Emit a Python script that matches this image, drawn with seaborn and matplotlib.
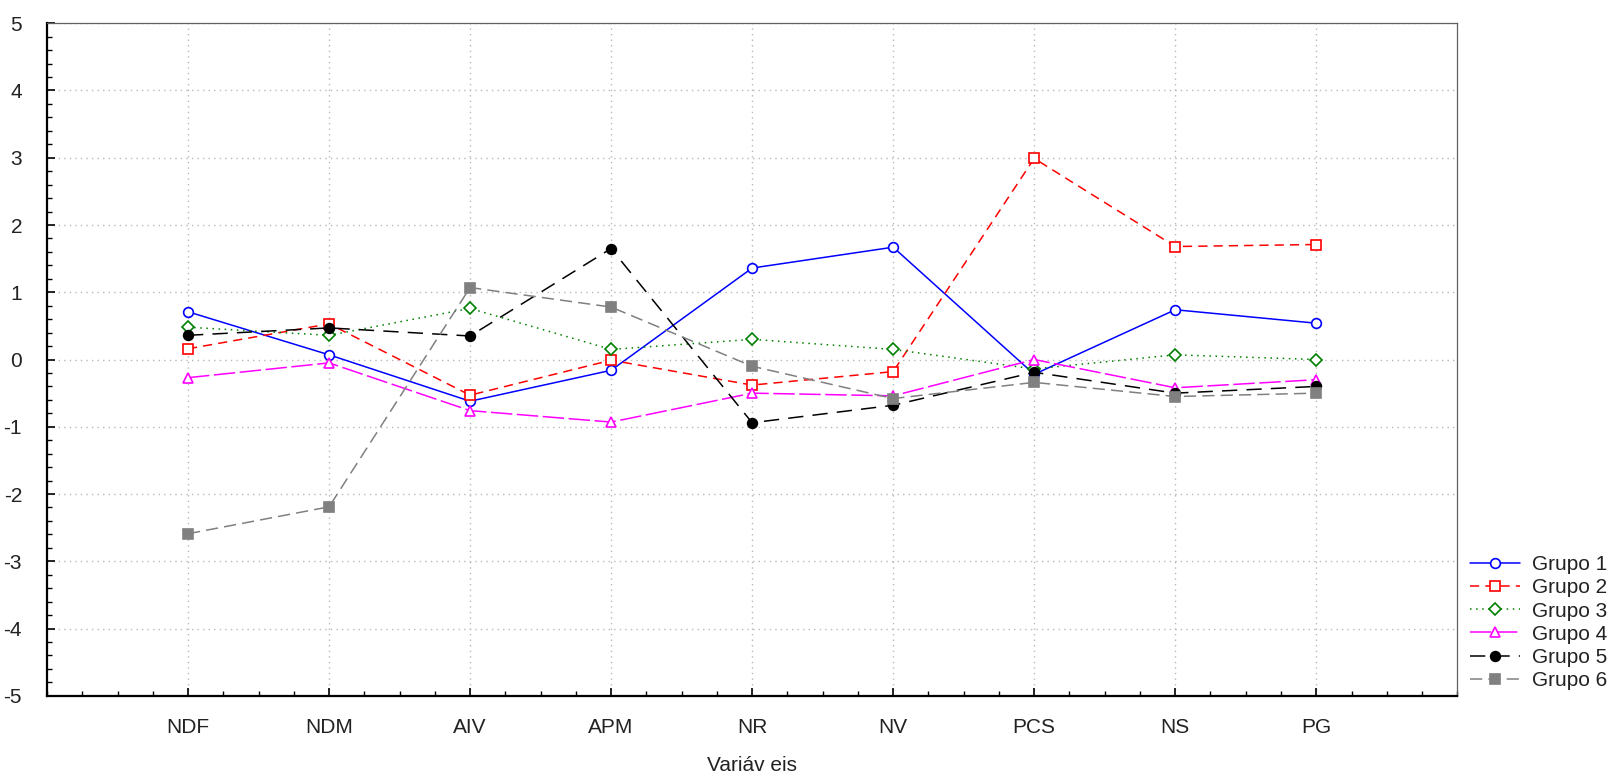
import matplotlib
matplotlib.use("Agg")
import matplotlib.pyplot as plt
import pandas as pd
import seaborn as sns
from matplotlib.ticker import MultipleLocator

variaveis = ["NDF", "NDM", "AIV", "APM", "NR", "NV", "PCS", "NS", "PG"]

grupo1 = [0.71, 0.07, -0.62, -0.16, 1.36, 1.67, -0.22, 0.74, 0.54]
grupo2 = [0.16, 0.53, -0.53, -0.01, -0.38, -0.18, 2.99, 1.68, 1.71]
grupo3 = [0.48, 0.36, 0.76, 0.15, 0.30, 0.15, -0.14, 0.07, 0.00]
grupo4 = [-0.27, -0.05, -0.76, -0.93, -0.50, -0.54, 0.00, -0.42, -0.30]
grupo5 = [0.36, 0.47, 0.35, 1.65, -0.94, -0.68, -0.19, -0.50, -0.40]
grupo6 = [-2.59, -2.19, 1.07, 0.78, -0.10, -0.58, -0.34, -0.55, -0.50]

grupos = ["Grupo 1", "Grupo 2", "Grupo 3", "Grupo 4", "Grupo 5", "Grupo 6"]
valores = [grupo1, grupo2, grupo3, grupo4, grupo5, grupo6]

# line style per group: colour, marker, filled?, dash pattern
estilos = {
    "Grupo 1": ("#0000ff", "o", False, None),
    "Grupo 2": ("#ff0000", "s", False, (0, (6, 4))),
    "Grupo 3": ("#008000", "D", False, (0, (1, 3))),
    "Grupo 4": ("#ff00ff", "^", False, (0, (14, 3))),
    "Grupo 5": ("#000000", "o", True, (0, (10, 6))),
    "Grupo 6": ("#808080", "s", True, (0, (8, 4))),
}

df = pd.DataFrame({
    "Variável": variaveis * len(grupos),
    "Valor": [v for vals in valores for v in vals],
    "Grupo": [g for g in grupos for _ in variaveis],
})

sns.set_style("white")
plt.rcParams["font.family"] = ["Liberation Sans Narrow", "Liberation Sans", "DejaVu Sans"]
plt.rcParams["axes.unicode_minus"] = False

fig = plt.figure(figsize=(16.21, 7.74), dpi=100)
ax = fig.add_axes([0.029, 0.101, 0.870, 0.869])

for g in grupos:
    cor, mk, cheio, dash = estilos[g]
    sub = df[df["Grupo"] == g]
    sns.lineplot(
        data=sub, x="Variável", y="Valor", ax=ax, label=g,
        color=cor, marker=mk, markersize=7 if mk != "D" else 6,
        markerfacecolor=cor if cheio else "white",
        markeredgecolor=cor, markeredgewidth=1.2, linewidth=1.1,
        sort=False,
    )
    if dash is not None:
        ax.lines[-1].set_linestyle(dash)

ax.set_xlim(-1, 9)
ax.set_ylim(-5, 5)
ax.set_xticks(range(len(variaveis)))
ax.set_xticklabels(variaveis)
ax.yaxis.set_major_locator(MultipleLocator(1))
ax.yaxis.set_minor_locator(MultipleLocator(0.2))
ax.xaxis.set_minor_locator(MultipleLocator(0.25))

ax.grid(True, which="major", color="#b8b8b8", linestyle=(0, (1, 3)), linewidth=1)
ax.set_axisbelow(True)

for s in ["left", "bottom"]:
    ax.spines[s].set_color("black")
    ax.spines[s].set_linewidth(1.6)
for s in ["top", "right"]:
    ax.spines[s].set_color("#606060")
    ax.spines[s].set_linewidth(0.9)

ax.tick_params(axis="both", which="both", bottom=True, left=True,
               top=False, right=False, direction="in", colors="black")
ax.tick_params(axis="both", which="major", length=6, width=1.2,
               labelsize=15, labelcolor="#222222")
ax.tick_params(axis="both", which="minor", length=3.5, width=1)
ax.tick_params(axis="x", which="major", pad=16)
ax.tick_params(axis="y", which="major", pad=18)

ax.set_xlabel("Variáv eis", fontsize=15, color="#222222", labelpad=14)
ax.set_ylabel("")

leg = ax.legend(loc="lower left", bbox_to_anchor=(1.0, -0.010), frameon=False,
                fontsize=15, handlelength=2.4, labelspacing=0.2,
                borderaxespad=0.2, handletextpad=0.6)
for t in leg.get_texts():
    t.set_color("#222222")

fig.savefig("out.png", dpi=100)
